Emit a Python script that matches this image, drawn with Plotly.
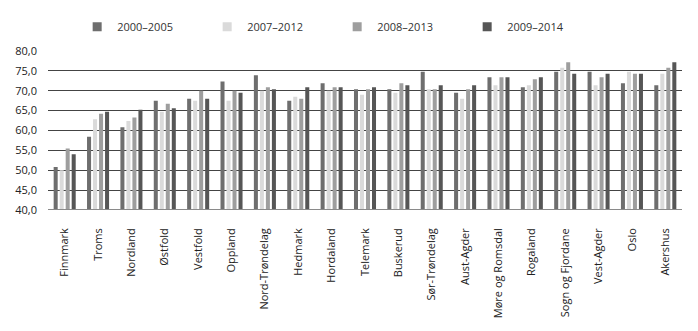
import plotly.graph_objects as go

categories = ["Finnmark", "Troms", "Nordland", "Østfold", "Vestfold", "Oppland",
              "Nord-Trøndelag", "Hedmark", "Hordaland", "Telemark", "Buskerud",
              "Sør-Trøndelag", "Aust-Agder", "Møre og Romsdal", "Rogaland",
              "Sogn og Fjordane", "Vest-Agder", "Oslo", "Akershus"]

s2000_2005 = [50.8, 58.4, 60.8, 67.5, 68.0, 72.3, 73.9, 67.5, 71.9, 70.4, 70.4,
              74.8, 69.5, 73.4, 70.9, 74.8, 74.8, 71.9, 71.4]
s2007_2012 = [50.0, 62.8, 62.4, 64.7, 67.5, 67.5, 70.0, 68.5, 70.0, 69.0, 69.5,
              70.4, 68.0, 71.4, 71.4, 75.8, 71.4, 74.8, 74.3]
s2008_2013 = [55.5, 64.2, 63.3, 66.7, 70.0, 70.0, 70.9, 68.0, 70.9, 70.4, 71.9,
              70.4, 70.4, 73.4, 72.9, 77.2, 73.4, 74.3, 75.8]
s2009_2014 = [54.0, 64.7, 65.2, 65.6, 68.0, 69.5, 70.4, 70.9, 70.9, 70.9, 71.4,
              71.4, 71.4, 73.4, 73.4, 74.3, 74.3, 74.3, 77.2]

series_names = ["2000–2005", "2007–2012", "2008–2013", "2009–2014"]
series_values = [s2000_2005, s2007_2012, s2008_2013, s2009_2014]
colors = ["#6e6e6e", "#dadada", "#9e9e9e", "#565656"]

font_family = "Open Sans, DejaVu Sans, sans-serif"

fig = go.Figure()
for name, vals, col in zip(series_names, series_values, colors):
    fig.add_trace(go.Bar(x=categories, y=vals, name=name, marker_color=col,
                         marker_line_width=0, showlegend=False))
    fig.add_trace(go.Scatter(x=[None], y=[None], mode="markers", name=name,
                             marker=dict(symbol="square", size=9, color=col),
                             showlegend=True))

fig.update_layout(
    width=698, height=331,
    margin=dict(l=48, r=16, t=47, b=121),
    paper_bgcolor="white", plot_bgcolor="white",
    barmode="group", bargap=0.28, bargroupgap=0.33,
    separators=",.",
    font=dict(family=font_family, size=11, color="#333333"),
    legend=dict(orientation="h", x=0.046, y=1.153, xanchor="left", yanchor="middle",
                entrywidth=85, entrywidthmode="pixels", itemwidth=30,
                font=dict(size=11, color="#333333")),
    xaxis=dict(tickangle=-90, showgrid=False, showline=False, ticks="",
               ticklabelstandoff=15,
               tickfont=dict(size=11, color="#222222")),
    yaxis=dict(range=[40, 80], dtick=5, tickformat=".1f", showgrid=True,
               gridcolor="#444444", gridwidth=1, zeroline=False,
               showline=False, ticks="", ticklabelstandoff=10,
               tickfont=dict(size=11, color="#222222")),
)
fig.add_shape(type="line", xref="paper", yref="y", x0=0, x1=1, y0=40, y1=40,
              line=dict(color="#8a8a8a", width=2))

fig.write_html("out.html")
